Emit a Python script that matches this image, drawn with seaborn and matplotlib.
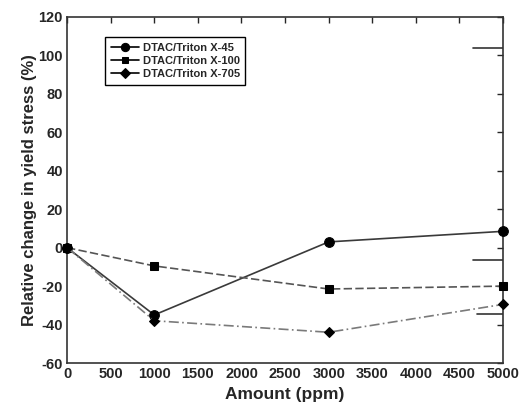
import pandas as pd
import matplotlib
matplotlib.use("Agg")
import matplotlib.pyplot as plt
import seaborn as sns

# values
amount = [0, 1000, 3000, 5000]
x45 = [0, -35, 3, 8.5]
x100 = [0, -9.5, -21.5, -20]
x705 = [0, -38, -44, -29.5]
series_names = ["DTAC/Triton X-45", "DTAC/Triton X-100", "DTAC/Triton X-705"]

# stray short marks near the right axis in the original
stray_y = [104, -6.5, -34.5]
stray_x0 = [4650, 4660, 4700]

sns.set_style("white")
plt.rcParams['font.family'] = ['Liberation Sans', 'DejaVu Sans']
plt.rcParams['font.weight'] = 'bold'
plt.rcParams['axes.unicode_minus'] = False

df = pd.DataFrame({"Amount": amount * 3,
                   "Change": x45 + x100 + x705,
                   "Series": [series_names[0]] * 4 + [series_names[1]] * 4 + [series_names[2]] * 4})

fig = plt.figure(figsize=(5.24, 4.13), dpi=100)
ax = fig.add_axes([0.128, 0.121, 0.832, 0.838])

styles = {
    series_names[0]: dict(color="#3a3a3a", ls="-", marker="o", ms=7),
    series_names[1]: dict(color="#555555", ls=(0, (5, 2)), marker="s", ms=5.5),
    series_names[2]: dict(color="#7a7a7a", ls=(0, (6, 2, 1, 2)), marker="D", ms=5.5),
}
for name in series_names:
    st = styles[name]
    sub = df[df["Series"] == name]
    sns.lineplot(data=sub, x="Amount", y="Change", ax=ax, label=name,
                 color=st["color"], linestyle=st["ls"], lw=1.2,
                 marker=st["marker"], markersize=st["ms"],
                 markerfacecolor="black", markeredgecolor="black",
                 errorbar=None, clip_on=False, zorder=3)

for y, x0 in zip(stray_y, stray_x0):
    ax.plot([x0, 5000], [y, y], color="#333333", lw=1.2)

ax.set_xlim(0, 5000)
ax.set_ylim(-60, 120)
ax.set_xticks(range(0, 5001, 500))
ax.set_yticks(range(-60, 121, 20))
ax.tick_params(direction="in", top=True, right=True, length=4, width=1,
               labelsize=10.5, pad=3)
for lab in ax.get_xticklabels() + ax.get_yticklabels():
    lab.set_fontweight("bold")
for sp in ax.spines.values():
    sp.set_color("#333333")
    sp.set_linewidth(1.2)

ax.set_xlabel("Amount (ppm)", fontsize=12.5, fontweight="bold", labelpad=4)
ax.set_ylabel("Relative change in yield stress (%)", fontsize=12, fontweight="bold", labelpad=1)

leg = ax.legend(loc="upper left", bbox_to_anchor=(0.087, 0.942), borderaxespad=0,
                fancybox=False, framealpha=1, edgecolor="black",
                prop={"size": 8, "weight": "bold"}, markerscale=0.85,
                handlelength=2.6, borderpad=0.5, labelspacing=0.3, handletextpad=0.3)
leg.get_frame().set_linewidth(1.0)
for h in leg.legend_handles:
    h.set_linestyle("-")
    h.set_color("black")

fig.savefig("out.png", dpi=100)
